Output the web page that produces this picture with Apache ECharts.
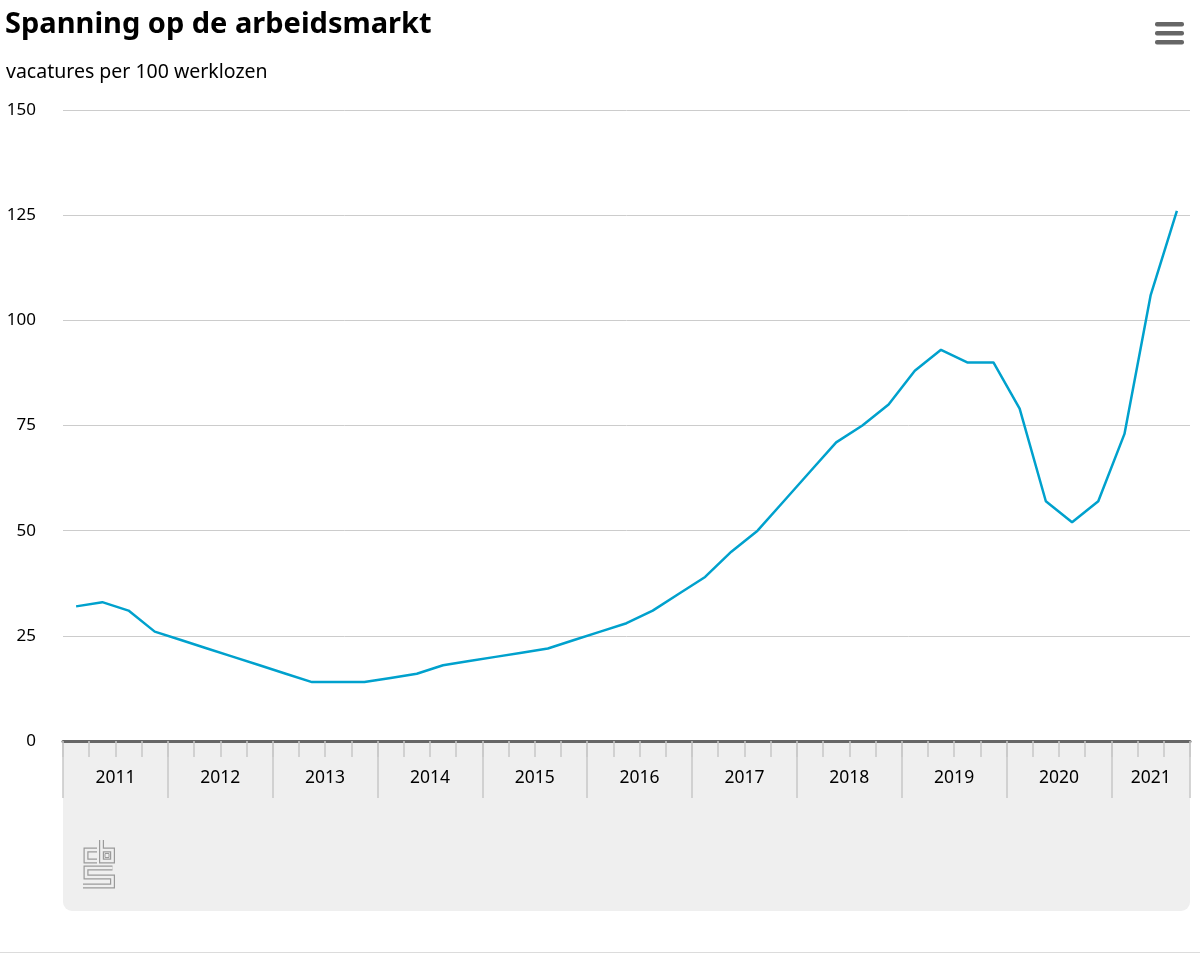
<!DOCTYPE html>
<html>
<head>
<meta charset="utf-8">
<script src="https://cdn.jsdelivr.net/npm/echarts@6/dist/echarts.min.js"></script>
<style>
  html, body { margin: 0; padding: 0; background: #fff; }
  #chart { width: 1200px; height: 954px; }
</style>
</head>
<body>
<div id="chart"></div>
<script>
// ---- data ----
const title = 'Spanning op de arbeidsmarkt';
const subtitle = 'vacatures per 100 werklozen';
const years = ['2011','2012','2013','2014','2015','2016','2017','2018','2019','2020','2021'];
const quartersInYear = [4,4,4,4,4,4,4,4,4,4,3];
const values = [
  32, 33, 31, 26,     // 2011
  24, 22, 20, 18,     // 2012
  16, 14, 14, 14,     // 2013
  15, 16, 18, 19,     // 2014
  20, 21, 22, 24,     // 2015
  26, 28, 31, 35,     // 2016
  39, 45, 50, 57,     // 2017
  64, 71, 75, 80,     // 2018
  88, 93, 90, 90,     // 2019
  79, 57, 52, 57,     // 2020
  73, 106, 126        // 2021
];
const yTicks = [0, 25, 50, 75, 100, 125, 150];

// ---- derived ----
const quarterCats = [];
years.forEach((y, k) => { for (let q = 1; q <= quartersInYear[k]; q++) quarterCats.push(y + ' K' + q); });
const nQ = quarterCats.length;
// half-quarter label axis: point j sits at j/(2*nQ) of width
const halfCats = new Array(2 * nQ + 1).fill('');
let start = 0;
years.forEach((y, k) => {
  const end = start + quartersInYear[k];
  halfCats[start + end] = y;
  start = end;
});

const font = '"Noto Sans", "Open Sans", sans-serif';
const chart = echarts.init(document.getElementById('chart'), null, { renderer: 'canvas' });

const grid = { left: 63, right: 10, top: 110, bottom: 213 };

function logoLine(points) {
  return [
    { type: 'polyline', shape: { points }, style: { stroke: '#9a9a9a', lineWidth: 5, fill: null, lineJoin: 'miter' }, z: 5 },
    { type: 'polyline', shape: { points }, style: { stroke: '#efefef', lineWidth: 2.6, fill: null, lineJoin: 'miter' }, z: 6 }
  ];
}

const graphics = [
  // grey band under the axis
  { type: 'rect', shape: { x: 63, y: 741, width: 1127, height: 170, r: [0, 0, 9, 9] }, style: { fill: '#efefef' }, z: -1 },
  // bottom rule
  { type: 'rect', shape: { x: 0, y: 952, width: 1200, height: 1 }, style: { fill: '#dcdcdc' }, z: -1 },
  // hamburger menu
  { type: 'rect', shape: { x: 1155, y: 22, width: 29, height: 4.5, r: 2 }, style: { fill: '#666' } },
  { type: 'rect', shape: { x: 1155, y: 31, width: 29, height: 4.5, r: 2 }, style: { fill: '#666' } },
  { type: 'rect', shape: { x: 1155, y: 40, width: 29, height: 4.5, r: 2 }, style: { fill: '#666' } },
  // cbs logo
  ...logoLine([[97, 850], [86, 850], [86, 861], [97, 861]]),
  ...logoLine([[101.5, 840], [101.5, 861], [112.5, 861], [112.5, 850], [101.5, 850]]),
  { type: 'rect', shape: { x: 105, y: 853.5, width: 4, height: 4 }, style: { fill: null, stroke: '#9a9a9a', lineWidth: 1 }, z: 7 },
  ...logoLine([[112.5, 868], [86, 868], [86, 877], [112.5, 877], [112.5, 886], [83, 886]])
];

chart.setOption({
  animation: false,
  textStyle: { fontFamily: font },
  title: [
    { text: title, left: 5, top: 10, padding: 0, textStyle: { fontFamily: font, fontSize: 29, fontWeight: 'bold', color: '#000' } },
    { text: subtitle, left: 6, top: 62, padding: 0, textStyle: { fontFamily: font, fontSize: 19.5, fontWeight: 'normal', color: '#000' } }
  ],
  grid: grid,
  xAxis: [
    {
      type: 'category', data: quarterCats, boundaryGap: true, position: 'bottom',
      axisLine: { show: true, onZero: false, lineStyle: { color: '#666', width: 3 } },
      axisTick: { show: true, interval: 0, length: 16, lineStyle: { color: '#c8c8c8', width: 1.5 } },
      axisLabel: { show: false }, splitLine: { show: false }, z: 3
    },
    {
      type: 'value', min: 0, max: nQ, interval: 4, position: 'bottom',
      axisLine: { show: false },
      axisTick: { show: true, length: 57, lineStyle: { color: '#c8c8c8', width: 1.5 } },
      axisLabel: { show: false }, splitLine: { show: false }
    },
    {
      type: 'category', data: halfCats, boundaryGap: false, position: 'bottom',
      axisLine: { show: false }, axisTick: { show: false },
      axisLabel: {
        show: true, interval: (i, v) => v !== '', margin: 28,
        fontFamily: font, fontSize: 17.5, color: '#000'
      },
      splitLine: { show: false }
    }
  ],
  yAxis: {
    type: 'value', min: yTicks[0], max: yTicks[yTicks.length - 1], interval: yTicks[1] - yTicks[0],
    axisLine: { show: false }, axisTick: { show: false },
    axisLabel: { fontFamily: font, fontSize: 17, color: '#000', margin: 27 },
    splitLine: { lineStyle: { color: '#cccccc', width: 1 } }
  },
  series: [{
    type: 'line', xAxisIndex: 0, data: values, showSymbol: false, symbol: 'none',
    lineStyle: { color: '#00a1cd', width: 2.5 }, z: 5
  }],
  graphic: graphics
});
</script>
</body>
</html>
